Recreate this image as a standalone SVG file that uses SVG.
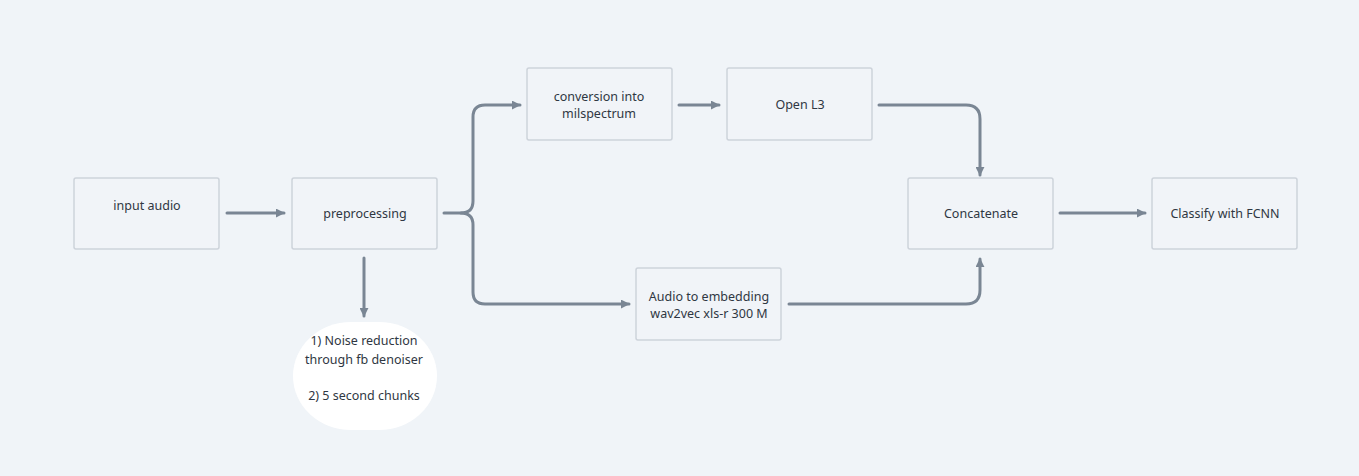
<svg xmlns="http://www.w3.org/2000/svg" width="1359" height="476" viewBox="0 0 1359 476">
<style>
.box{fill:#f1f4f8;stroke:#cdd3da;stroke-width:1.5}
.t{font-family:"Noto Sans","DejaVu Sans",sans-serif;font-size:12.5px;fill:#2f3742;text-anchor:middle}
.c{fill:none;stroke:#7a8694;stroke-width:3;stroke-linecap:round;stroke-linejoin:round}
</style>
<defs>
<marker id="ah" viewBox="0 0 10 10" refX="9" refY="5" markerWidth="3" markerHeight="3" orient="auto" markerUnits="strokeWidth">
<path d="M0,0 L10,5 L0,10 z" fill="#7a8694"/>
</marker>
</defs>
<rect width="1359" height="476" fill="#f0f4f8"/>
<g id="connectors">
<path class="c" d="M227,213 H284" marker-end="url(#ah)"/>
<path class="c" d="M364,258 V316" marker-end="url(#ah)"/>
<path class="c" d="M444,213 H461 Q473,213 473,201 V117 Q473,105 485,105 H520" marker-end="url(#ah)"/>
<path class="c" d="M461,213 Q473,213 473,225 V292 Q473,304 485,304 H629" marker-end="url(#ah)"/>
<path class="c" d="M679,105 H719" marker-end="url(#ah)"/>
<path class="c" d="M879,105 H966 Q980,105 980,119 V175" marker-end="url(#ah)"/>
<path class="c" d="M789,304 H966 Q980,304 980,290 V259" marker-end="url(#ah)"/>
<path class="c" d="M1060,213 H1145" marker-end="url(#ah)"/>
</g>
<g id="input-audio">
<rect class="box" x="74" y="178" width="145" height="71" rx="2"/>
<text class="t" x="147" y="210">input audio</text>
</g>
<g id="preprocessing">
<rect class="box" x="292" y="178" width="145" height="71" rx="2"/>
<text class="t" x="365" y="218">preprocessing</text>
</g>
<g id="notes">
<rect x="293" y="322" width="144" height="108" rx="58" ry="54" fill="#ffffff"/>
<text class="t" x="364" y="345">1) Noise reduction</text>
<text class="t" x="364" y="364">through fb denoiser</text>
<text class="t" x="364" y="400">2) 5 second chunks</text>
</g>
<g id="conversion">
<rect class="box" x="527" y="68" width="145" height="72" rx="2"/>
<text class="t" x="599" y="101">conversion into</text>
<text class="t" x="599" y="118">milspectrum</text>
</g>
<g id="openl3">
<rect class="box" x="727" y="68" width="145" height="72" rx="2"/>
<text class="t" x="800" y="109">Open L3</text>
</g>
<g id="audio-embedding">
<rect class="box" x="636" y="268" width="145" height="72" rx="2"/>
<text class="t" x="709" y="301">Audio to embedding</text>
<text class="t" x="709" y="318">wav2vec xls-r 300 M</text>
</g>
<g id="concatenate">
<rect class="box" x="908" y="178" width="145" height="71" rx="2"/>
<text class="t" x="981" y="218">Concatenate</text>
</g>
<g id="classify">
<rect class="box" x="1152" y="178" width="145" height="71" rx="2"/>
<text class="t" x="1225" y="218">Classify with FCNN</text>
</g>
</svg>
